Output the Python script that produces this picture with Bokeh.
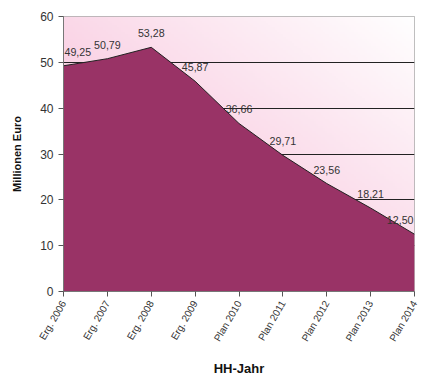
import numpy as np
from bokeh.plotting import figure
from bokeh.models import FixedTicker, ColumnDataSource
from bokeh.core.properties import value
from bokeh.embed import file_html
from bokeh.resources import INLINE

categories = ["Erg. 2006", "Erg. 2007", "Erg. 2008", "Erg. 2009", "Plan 2010",
              "Plan 2011", "Plan 2012", "Plan 2013", "Plan 2014"]
values = [49.25, 50.79, 53.28, 45.87, 36.66, 29.71, 23.56, 18.21, 12.50]
labels = ["49,25", "50,79", "53,28", "45,87", "36,66", "29,71", "23,56", "18,21", "12,50"]
y_ticks = [0, 10, 20, 30, 40, 50, 60]

xs = list(range(len(categories)))
n = len(categories) - 1

p = figure(width=420, height=379, output_backend="svg", toolbar_location=None,
           x_range=(0, n), y_range=(0, 60),
           min_border_left=63, min_border_right=6, min_border_top=16, min_border_bottom=87)

# background gradient (style only)
H, W = 120, 160
u = np.linspace(0, 1, W)[None, :]
v = np.linspace(0, 1, H)[:, None]
t = np.clip((u + v) / 2.0, 0, 1)
pink = np.array([246, 178, 210])
white = np.array([255, 255, 255])
img = np.empty((H, W), dtype=np.uint32)
view = img.view(dtype=np.uint8).reshape((H, W, 4))
for c in range(3):
    view[:, :, c] = (pink[c] * (1 - t) + white[c] * t).astype(np.uint8)
view[:, :, 3] = 255
p.image_rgba(image=[img], x=0, y=0, dw=n, dh=60, level="image")

src = ColumnDataSource(dict(x=xs, y=values, lab=labels))
p.varea(x="x", y1=0, y2="y", source=src, fill_color="#993366")
p.line(x="x", y="y", source=src, line_color="#222222", line_width=1)

font = value("Liberation Sans")
first = ColumnDataSource(dict(x=xs[:1], y=values[:1], lab=labels[:1]))
mid = ColumnDataSource(dict(x=xs[1:-1], y=values[1:-1], lab=labels[1:-1]))
last = ColumnDataSource(dict(x=xs[-1:], y=values[-1:], lab=labels[-1:]))
for s, al, xo in [(first, "left", 1), (mid, "center", 0), (last, "right", -1)]:
    p.text(x="x", y="y", text="lab", source=s, text_align=al, text_baseline="bottom",
           x_offset=xo, y_offset=-10, text_font=font, text_font_size="8pt",
           text_color="#333333")

p.xgrid.visible = False
p.ygrid.grid_line_color = "#222222"
p.ygrid.grid_line_width = 1
p.ygrid.level = "underlay"
p.ygrid.ticker = FixedTicker(ticks=y_ticks)

p.outline_line_color = "#aaaaaa"
p.background_fill_color = "white"

p.yaxis.ticker = FixedTicker(ticks=y_ticks)
p.xaxis.ticker = FixedTicker(ticks=xs)
p.xaxis.major_label_overrides = {i: c for i, c in enumerate(categories)}
p.xaxis.major_label_orientation = np.pi / 3
for ax in (p.xaxis, p.yaxis):
    ax.axis_line_color = "#777777"
    ax.major_tick_line_color = "#555555"
    ax.major_tick_out = 5
    ax.major_tick_in = 0
    ax.minor_tick_line_color = None
    ax.major_label_text_font = "Liberation Sans"
    ax.major_label_text_color = "#333333"
    ax.axis_label_text_font = "Liberation Sans"
    ax.axis_label_text_font_style = "bold"
    ax.axis_label_text_color = "#111111"
p.yaxis.major_label_text_font_size = "12px"
p.xaxis.major_label_text_font_size = "10px"
p.yaxis.axis_label = "Millionen Euro"
p.yaxis.axis_label_text_font_size = "11px"
p.yaxis.axis_label_standoff = 14
p.xaxis.axis_label = "HH-Jahr"
p.xaxis.axis_label_text_font_size = "13px"
p.xaxis.axis_label_standoff = 12

open("out.html", "w").write(file_html(p, INLINE))
